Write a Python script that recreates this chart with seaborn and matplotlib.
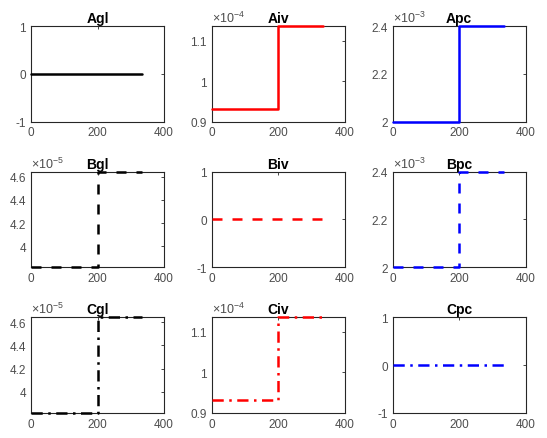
import matplotlib
matplotlib.use("Agg")
import matplotlib.pyplot as plt
import seaborn as sns
import pandas as pd
from matplotlib.ticker import FuncFormatter

sns.set_style("white")
plt.rcParams['font.family'] = ['Liberation Sans', 'DejaVu Sans']
plt.rcParams['axes.unicode_minus'] = False
plt.rcParams['mathtext.fontset'] = 'custom'
plt.rcParams['mathtext.rm'] = 'Liberation Sans'
plt.rcParams['mathtext.it'] = 'Liberation Sans'
plt.rcParams['mathtext.default'] = 'regular'

# ---- data ----
titles = [["Agl", "Aiv", "Apc"], ["Bgl", "Biv", "Bpc"], ["Cgl", "Civ", "Cpc"]]
x_pts = [0, 200, 200, 335]
gl_vals = [3.82e-5, 3.82e-5, 4.643e-5, 4.643e-5]
iv_vals = [0.932e-4, 0.932e-4, 1.136e-4, 1.136e-4]
pc_vals = [2.0e-3, 2.0e-3, 2.4e-3, 2.4e-3]
zero_vals = [0.0, 0.0, 0.0, 0.0]

series = [[zero_vals, iv_vals, pc_vals],
          [gl_vals, zero_vals, pc_vals],
          [gl_vals, iv_vals, zero_vals]]

ylims = {"zero": (-1, 1), "gl": (3.82e-5, 4.643e-5), "iv": (0.9e-4, 1.136e-4), "pc": (2.0e-3, 2.4e-3)}
yticks = {"zero": [-1, 0, 1], "gl": [4.0e-5, 4.2e-5, 4.4e-5, 4.6e-5],
          "iv": [0.9e-4, 1.0e-4, 1.1e-4], "pc": [2.0e-3, 2.2e-3, 2.4e-3]}
scales = {"zero": 0, "gl": -5, "iv": -4, "pc": -3}
kinds = [["zero", "iv", "pc"], ["gl", "zero", "pc"], ["gl", "iv", "zero"]]
xticks = [0, 200, 400]

colors = ["black", "red", "blue"]
dashes = [None, (4, 4), (4.5, 2.2, 1, 2.2)]

W, H = 547, 439
fig = plt.figure(figsize=(W / 100, H / 100), dpi=100)
lefts = [31, 211.7, 392.7]
tops = [27, 172.7, 318.3]
aw, ah = 133, 95.5
gray = (0.15, 0.15, 0.15)
tick_gray = (0.3, 0.3, 0.3)

for r in range(3):
    for c in range(3):
        ax = fig.add_axes([lefts[c] / W, 1 - (tops[r] + ah) / H, aw / W, ah / H])
        kind = kinds[r][c]
        df = pd.DataFrame({"x": x_pts, "y": series[r][c]})
        sns.lineplot(data=df, x="x", y="y", ax=ax, color=colors[c],
                     estimator=None, sort=False, linewidth=1.8)
        line = ax.lines[-1]
        if dashes[r] is not None:
            line.set_dashes(dashes[r])
        line.set_clip_on(False)
        line.set_zorder(3)
        ax.set_xlim(0, 400)
        ax.set_ylim(*ylims[kind])
        ax.set_xticks(xticks)
        ax.set_yticks(yticks[kind])
        e = scales[kind]
        if e != 0:
            ax.yaxis.set_major_formatter(FuncFormatter(lambda v, p, e=e: "%g" % round(v / 10 ** e, 6)))
            ax.text(0.0, 1.01, r"$\times10^{%d}$" % e, transform=ax.transAxes,
                    fontsize=9, color=tick_gray, ha="left", va="bottom")
        else:
            ax.yaxis.set_major_formatter(FuncFormatter(lambda v, p: "%g" % v))
        ax.set_xlabel("")
        ax.set_ylabel("")
        ax.set_title(titles[r][c], fontsize=10, fontweight="bold", pad=3, color="black")
        ax.tick_params(direction="in", length=2, width=0.6, top=True, right=True,
                       labelsize=8.5, labelcolor=tick_gray, color=gray, pad=3.5)
        for s in ax.spines.values():
            s.set_color(gray)
            s.set_linewidth(0.8)
            s.set_visible(True)
            s.set_zorder(2)

fig.savefig("out.png", dpi=100, facecolor="white")
